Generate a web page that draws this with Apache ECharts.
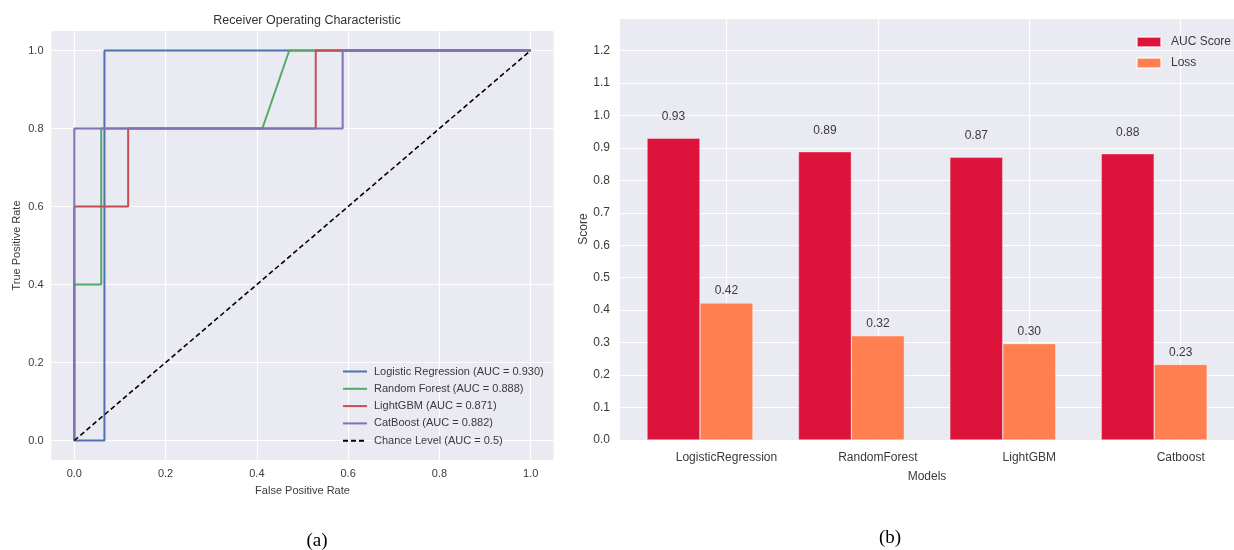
<!DOCTYPE html>
<html><head><meta charset="utf-8">
<script src="https://cdn.jsdelivr.net/npm/echarts@6/dist/echarts.min.js"></script>
<style>html,body{margin:0;padding:0;background:#fff}#c{width:1234px;height:550px}</style>
</head><body><div id="c"></div>
<script>
// ---- ROC data (panel a) ----
const rocTicks = [0, 0.2, 0.4, 0.6, 0.8, 1.0];
const lrFpr = [0, 0.066, 0.066, 1];
const lrTpr = [0, 0, 1, 1];
const rfFpr = [0, 0, 0.059, 0.059, 0.412, 0.471, 1];
const rfTpr = [0, 0.4, 0.4, 0.8, 0.8, 1, 1];
const lgbFpr = [0, 0, 0.118, 0.118, 0.529, 0.529, 1];
const lgbTpr = [0, 0.6, 0.6, 0.8, 0.8, 1, 1];
const cbFpr = [0, 0, 0.588, 0.588, 1];
const cbTpr = [0, 0.8, 0.8, 1, 1];
const chanceFpr = [0, 1];
const chanceTpr = [0, 1];
const rocNames = [
  'Logistic Regression (AUC = 0.930)',
  'Random Forest (AUC = 0.888)',
  'LightGBM (AUC = 0.871)',
  'CatBoost (AUC = 0.882)',
  'Chance Level (AUC = 0.5)'
];
// ---- Bar data (panel b) ----
const models = ['LogisticRegression', 'RandomForest', 'LightGBM', 'Catboost'];
const aucScores = [0.930, 0.888, 0.871, 0.882];
const losses = [0.422, 0.321, 0.297, 0.233];
const barSeriesNames = ['AUC Score', 'Loss'];
const barWidthFrac = 0.35;

const pts = (xs, ys) => xs.map((x, i) => [x, ys[i]]);
const FONT = 'Liberation Sans, Arial, sans-serif';
const BG = '#EAEAF2';
const TXT = '#3a3a3a';
const modelTickPos = models.map((m, i) => i + barWidthFrac / 2);

const chart = echarts.init(document.getElementById('c'));
const lineDefs = [
  [lrFpr, lrTpr, '#4C72B0', 'solid'],
  [rfFpr, rfTpr, '#55A868', 'solid'],
  [lgbFpr, lgbTpr, '#C44E52', 'solid'],
  [cbFpr, cbTpr, '#8172B2', 'solid'],
  [chanceFpr, chanceTpr, '#000000', [5, 3]]
];

chart.setOption({
  animation: false,
  textStyle: { fontFamily: FONT },
  title: [
    { text: 'Receiver Operating Characteristic', left: 302, top: 9, textAlign: 'center',
      textStyle: { fontSize: 12.5, fontWeight: 'normal', color: '#333', fontFamily: FONT } },
    { text: '(a)', left: 312, top: 527, textAlign: 'center',
      textStyle: { fontSize: 19, fontWeight: 'normal', color: '#000', fontFamily: 'Liberation Serif, Times New Roman, serif' } },
    { text: '(b)', left: 885, top: 524, textAlign: 'center',
      textStyle: { fontSize: 19, fontWeight: 'normal', color: '#000', fontFamily: 'Liberation Serif, Times New Roman, serif' } }
  ],
  legend: [
    { data: rocNames, orient: 'vertical', left: 337, top: 361, itemWidth: 24, itemHeight: 12, itemGap: 6.3,
      itemStyle: { opacity: 0, borderWidth: 0 },
      textStyle: { fontSize: 11, color: TXT, padding: [0, 0, 0, 2] } },
    { data: barSeriesNames, orient: 'vertical', left: 1131, top: 31, icon: 'rect', itemWidth: 24, itemHeight: 10, itemGap: 9,
      textStyle: { fontSize: 12, color: TXT, padding: [0, 0, 0, 5] } }
  ],
  grid: [
    { left: 51.5, top: 31, width: 502, height: 429, show: true, backgroundColor: BG, borderWidth: 0, containLabel: false },
    { left: 620, top: 18, width: 614, height: 422, show: true, backgroundColor: BG, borderWidth: 0, containLabel: false },
    { left: 624.3, top: 18, width: 605.6, height: 422, show: false, containLabel: false }
  ],
  xAxis: [
    { type: 'value', gridIndex: 0, min: -0.05, max: 1.05,
      axisLine: { show: false }, axisTick: { show: false, customValues: rocTicks },
      axisLabel: { customValues: rocTicks, formatter: v => v.toFixed(1), color: TXT, fontSize: 11, margin: 8 },
      splitLine: { show: true, lineStyle: { color: '#fff', width: 1.2 } },
      name: 'False Positive Rate', nameLocation: 'middle', nameGap: 25,
      nameTextStyle: { fontSize: 11, color: TXT } },
    { type: 'value', gridIndex: 1, min: -0.528, max: 3.527,
      axisLine: { show: false }, axisTick: { show: false, customValues: modelTickPos },
      axisLabel: { customValues: modelTickPos, formatter: v => models[Math.round(v - barWidthFrac / 2)], color: TXT, fontSize: 12, margin: 12 },
      splitLine: { show: true, lineStyle: { color: '#fff', width: 1.2 } },
      name: 'Models', nameLocation: 'middle', nameGap: 31,
      nameTextStyle: { fontSize: 12, color: TXT } },
    { type: 'category', gridIndex: 2, data: models, show: false }
  ],
  yAxis: [
    { type: 'value', gridIndex: 0, min: -0.05, max: 1.05,
      axisLine: { show: false }, axisTick: { show: false, customValues: rocTicks },
      axisLabel: { customValues: rocTicks, formatter: v => v.toFixed(1), color: TXT, fontSize: 11, margin: 8 },
      splitLine: { show: true, lineStyle: { color: '#fff', width: 1.2 } },
      name: 'True Positive Rate', nameLocation: 'middle', nameGap: 29,
      nameTextStyle: { fontSize: 11, color: TXT } },
    { type: 'value', gridIndex: 1, min: 0, max: 1.3, interval: 0.1,
      axisLine: { show: false }, axisTick: { show: false },
      axisLabel: { formatter: v => v.toFixed(1), color: TXT, fontSize: 12, margin: 10, showMaxLabel: false },
      splitLine: { show: true, lineStyle: { color: '#fff', width: 1.2 } },
      name: 'Score', nameLocation: 'middle', nameGap: 30,
      nameTextStyle: { fontSize: 12, color: TXT } },
    { type: 'value', gridIndex: 2, min: 0, max: 1.3, show: false, splitLine: { show: false } }
  ],
  series: [
    ...lineDefs.map((d, i) => ({
      type: 'line', name: rocNames[i], xAxisIndex: 0, yAxisIndex: 0,
      data: pts(d[0], d[1]), symbol: 'none', showSymbol: false,
      lineStyle: { color: d[2], width: i === 4 ? 1.6 : 2, type: d[3] },
      itemStyle: { color: d[2] }, z: 2 + i
    })),
    { type: 'bar', name: barSeriesNames[0], xAxisIndex: 2, yAxisIndex: 2, data: aucScores,
      barWidth: '35%', barGap: '0%',
      itemStyle: { color: '#DC143C', borderColor: 'rgba(255,255,255,0.6)', borderWidth: 0.6 },
      label: { show: true, position: 'top', distance: 15.5, formatter: p => p.value.toFixed(2), color: TXT, fontSize: 12 } },
    { type: 'bar', name: barSeriesNames[1], xAxisIndex: 2, yAxisIndex: 2, data: losses,
      barWidth: '35%', barGap: '0%',
      itemStyle: { color: '#FF7F50', borderColor: 'rgba(255,255,255,0.6)', borderWidth: 0.6 },
      label: { show: true, position: 'top', distance: 6, formatter: p => p.value.toFixed(2), color: TXT, fontSize: 12 } }
  ]
});
</script>
</body></html>
